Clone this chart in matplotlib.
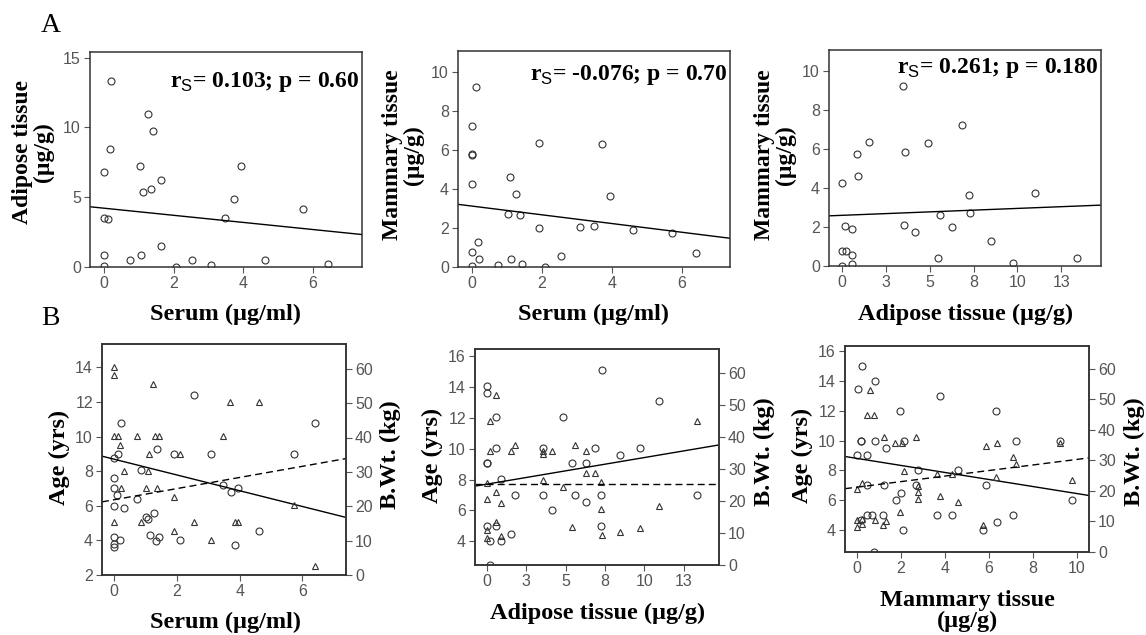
import matplotlib
matplotlib.use("Agg")
import matplotlib.pyplot as plt
import numpy as np

plt.rcParams['mathtext.fontset'] = 'custom'
plt.rcParams['mathtext.rm'] = 'Liberation Serif'
plt.rcParams['mathtext.bf'] = 'Liberation Serif:bold'
plt.rcParams['mathtext.sf'] = 'Liberation Sans'

# ---- data ----
# A: serum vs adipose
a1_serum = [0.2, 1.25, 1.41, 0.16, 0, 1.03, 1.63, 1.12, 1.36, 3.73, 3.93, 3.48, 5.73,
            0, 0.12, 0, 0, 0.74, 1.07, 1.63, 2.08, 2.54, 3.08, 4.63, 6.43]
a1_adipose = [13.35, 10.96, 9.74, 8.47, 6.84, 7.25, 6.24, 5.4, 5.57, 4.9, 7.25, 3.52, 4.14,
              3.54, 3.47, 0.84, 0.05, 0.53, 0.86, 1.48, 0, 0.53, 0.17, 0.53, 0.22]
# A: serum vs mammary
a2_serum = [0.12, 0, 0, 0, 0, 1.92, 3.72, 1.09, 1.25, 3.94, 1.03, 1.37, 1.91, 3.09,
            3.48, 4.61, 5.72, 6.41, 0, 0.18, 0.21, 0, 0.74, 1.13, 1.42, 2.09, 2.54]
a2_mammary = [9.26, 7.24, 5.83, 5.75, 4.29, 6.38, 6.33, 4.61, 3.77, 3.65, 2.74, 2.66, 2.0, 2.06,
              2.11, 1.92, 1.75, 0.74, 0.77, 1.3, 0.43, 0.05, 0.12, 0.41, 0.14, 0, 0.57]
# A: adipose vs mammary
a3_adipose = [3.47, 6.85, 1.51, 4.9, 0.86, 3.59, 0.88, 0, 7.25, 10.99, 5.59, 7.27, 0.15,
              0.53, 3.53, 4.16, 6.28, 8.49, 0, 0.23, 0.53, 0, 0.53, 5.44, 9.77, 13.42]
a3_mammary = [9.25, 7.21, 6.35, 6.3, 5.72, 5.84, 4.61, 4.28, 3.65, 3.75, 2.64, 2.74, 2.05,
              1.92, 2.11, 1.76, 1.99, 1.28, 0.79, 0.75, 0.55, 0.02, 0.12, 0.41, 0.15, 0.43]

# B: age (circles) and body weight (triangles)
b1_age_x = [2.53, 0.21, 6.4, 1.36, 0.12, 1.89, 3.09, 5.72, 0, 0.86, 0, 0, 0.09, 0.74, 3.47, 3.72,
            3.94, 0, 0.3, 1.02, 1.09, 1.26, 1.13, 1.32, 1.44, 2.1, 0, 0.17, 0, 0, 3.84, 4.61]
b1_age = [12.38, 10.79, 10.79, 9.31, 9.0, 9.0, 9.0, 9.0, 8.77, 8.08, 7.58, 7.0, 6.6, 6.38, 7.21, 6.81,
          7.04, 6.0, 5.88, 5.37, 5.21, 5.6, 4.31, 3.96, 4.17, 4.0, 4.21, 4.0, 3.77, 3.62, 3.73, 4.54]
b1_wt_x = [0, 0, 1.24, 3.7, 4.62, 0, 0.12, 0.73, 1.31, 1.44, 3.47, 0.17, 1.12, 2.1, 0.3,
           1.07, 0.21, 1.02, 1.36, 1.89, 5.72, 0, 0.86, 2.53, 3.84, 3.94, 1.89, 3.09, 6.4]
b1_wt = [60.6, 58.2, 55.7, 50.4, 50.4, 40.5, 40.5, 40.5, 40.5, 40.5, 40.5, 37.9, 35.3, 35.3, 30.3,
         30.3, 25.3, 25.3, 25.3, 22.8, 20.3, 15.3, 15.3, 15.3, 15.3, 15.3, 12.8, 10.3, 2.7]

b2_age_x = [7.34, 10.93, 0.04, 0.04, 0.57, 4.85, 3.54, 0.57, 6.86, 9.7, 8.48, 0.04, 0.04, 5.4, 6.29,
            0.89, 1.79, 3.54, 5.59, 6.29, 7.24, 13.33, 4.16, 0.04, 0.57, 7.22, 1.52, 0.21, 0.89, 0.21]
b2_age = [15.08, 13.07, 14.06, 13.57, 12.07, 12.07, 10.06, 10.06, 10.06, 10.06, 9.56, 9.04, 9.04, 9.04, 9.04,
          8.05, 7.03, 7.03, 7.03, 6.53, 7.03, 7.03, 6.06, 5.02, 5.02, 5.02, 4.5, 4.0, 4.0, 2.5]
b2_wt_x = [0.57, 0.21, 13.33, 0.21, 1.52, 1.79, 3.54, 3.54, 4.16, 5.59, 6.29, 6.29, 6.86, 7.22, 3.54,
           4.85, 0.04, 0.57, 0.04, 0.89, 7.22, 10.93, 5.4, 0.57, 0.04, 0.89, 0.04, 7.34, 8.48, 9.7]
b2_wt = [53.0, 44.9, 44.9, 35.5, 35.5, 37.4, 35.5, 34.8, 35.5, 37.4, 35.5, 28.7, 28.7, 25.8, 26.6,
         24.5, 25.6, 22.8, 20.7, 19.5, 17.4, 18.5, 12.0, 13.3, 11.0, 9.2, 8.4, 9.4, 10.4, 11.5]

b3_age_x = [0.26, 0.08, 0.82, 3.77, 1.95, 6.31, 0.18, 0.18, 0.82, 2.15, 7.22, 9.21, 1.33, 0.03, 0.45,
            2.78, 4.61, 0.48, 1.24, 2.68, 5.85, 2.03, 1.77, 9.76, 0.18, 0.45, 0.68, 1.21, 3.66, 4.31,
            7.1, 6.38, 5.73, 2.09, 0.79]
b3_age = [14.99, 13.48, 13.98, 12.97, 11.98, 11.98, 9.99, 9.99, 9.99, 9.99, 9.99, 9.99, 9.49, 9.0, 9.0,
          7.99, 7.99, 7.0, 7.0, 7.0, 7.0, 6.49, 6.0, 6.0, 4.67, 5.0, 5.0, 5.0, 5.0, 5.0,
          5.0, 4.52, 4.0, 4.0, 2.5]
b3_wt_x = [0.61, 0.45, 0.79, 1.26, 1.75, 2.07, 2.71, 5.85, 6.38, 9.23, 7.1, 7.22, 2.13, 3.66, 4.31,
           6.34, 9.76, 0.03, 0.23, 2.78, 2.78, 2.78, 3.78, 4.61, 1.95, 0.03, 0.03, 0.23, 0.26, 0.82,
           1.32, 1.21, 5.73]
b3_wt = [52.9, 44.7, 44.7, 37.6, 35.7, 35.7, 37.6, 34.7, 35.7, 35.7, 31.1, 28.7, 26.5, 25.5, 25.5,
         24.5, 23.4, 20.5, 22.6, 21.6, 19.6, 17.4, 18.3, 16.4, 13.1, 8.2, 10.4, 10.9, 9.3, 10.4,
         10.1, 8.7, 8.7]

# fit lines (intercept, slope)
a1_fit = (4.21, -0.254)
a2_fit = (3.13, -0.224)
a3_fit = (2.60, 0.0354)
b1_age_fit, b1_wt_fit = (8.69, -0.455), (21.9, 1.62)
b2_age_fit, b2_wt_fit = (7.70, 0.172), (25.3, 0.0)
b3_age_fit, b3_wt_fit = (8.80, -0.237), (21.2, 0.91)

stats_text = ['= 0.103; p = 0.60', '= -0.076; p = 0.70', '= 0.261; p = 0.180']

half_ticks = [0, 2.5, 5, 7.5, 10, 12.5]
half_labels = ['0', '3', '5', '8', '10', '13']

# ---- figure ----
W, H = 1146, 635
fig = plt.figure(figsize=(W / 100, H / 100), dpi=100)

SERIF = 'Liberation Serif'
TICK = '#555555'
EDGE = '#333333'
LAB = 17.5


def make_ax(l, t, r, b):
    return fig.add_axes([l / W, 1 - b / H, (r - l) / W, (b - t) / H])


def style(ax):
    for s in ax.spines.values():
        s.set_color(EDGE)
        s.set_linewidth(1.1)
    ax.tick_params(direction='out', length=4, width=0.8, color=TICK,
                   labelcolor=TICK, labelsize=11.5, pad=2.5)
    for lab in ax.get_xticklabels() + ax.get_yticklabels():
        lab.set_family('Liberation Sans')


def fitline(ax, fit, xlim, ls='-'):
    xs = np.array(xlim)
    ax.plot(xs, fit[0] + fit[1] * xs, color='black', lw=1.0, ls=ls,
            dashes=(5, 3) if ls == '--' else (None, None))


def circles(ax, x, y):
    ax.plot(x, y, 'o', mfc='none', mec=EDGE, ms=5, mew=0.8, clip_on=True)


def triangles(ax, x, y):
    ax.plot(x, y, '^', mfc='none', mec=EDGE, ms=5, mew=0.8, clip_on=True)


def ftext(x, y, s, size=LAB, rot=0, weight='bold', family=SERIF):
    fig.text(x / W, 1 - y / H, s, ha='center', va='center', rotation=rot,
             fontsize=size, fontweight=weight, family=family, color='black',
             linespacing=0.95)


# ---- row A ----
panels_a = [
    (make_ax(90, 52, 362, 267), a1_serum, a1_adipose, a1_fit, (-0.41, 7.42), (0, 15.4),
     [0, 2, 4, 6], None, [0, 5, 10, 15], 0.86),
    (make_ax(458, 51, 730, 267), a2_serum, a2_mammary, a2_fit, (-0.4, 7.38), (0, 11.1),
     [0, 2, 4, 6], None, [0, 2, 4, 6, 8, 10], 0.888),
    (make_ax(829, 50, 1101, 266), a3_adipose, a3_mammary, a3_fit, (-0.76, 14.77), (0, 11.08),
     half_ticks, half_labels, [0, 2, 4, 6, 8, 10], 0.917),
]
for (ax, x, y, fit, xl, yl, xt, xtl, yt, ty), st in zip(panels_a, stats_text):
    circles(ax, x, y)
    fitline(ax, fit, xl)
    ax.set_xlim(xl)
    ax.set_ylim(yl)
    ax.set_xticks(xt)
    if xtl:
        ax.set_xticklabels(xtl)
    ax.set_yticks(yt)
    style(ax)
    ax.text(0.99, ty, r'$\mathbf{r}_{\mathsf{S}}$' + st, transform=ax.transAxes,
            ha='right', va='center', fontsize=17, fontweight='bold', family=SERIF)

# ---- row B ----
panels_b = [
    (make_ax(102, 344, 346, 575), b1_age_x, b1_age, b1_wt_x, b1_wt, b1_age_fit, b1_wt_fit,
     (-0.39, 7.39), (2, 15.35), (0, 67.2), [0, 2, 4, 6], None, [2, 4, 6, 8, 10, 12, 14]),
    (make_ax(475, 349, 719, 565), b2_age_x, b2_age, b2_wt_x, b2_wt, b2_age_fit, b2_wt_fit,
     (-0.74, 14.73), (2.48, 16.43), (0, 67.5), half_ticks, half_labels, [4, 6, 8, 10, 12, 14, 16]),
    (make_ax(845, 346, 1089, 552), b3_age_x, b3_age, b3_wt_x, b3_wt, b3_age_fit, b3_wt_fit,
     (-0.53, 10.54), (2.5, 16.36), (0, 67.4), [0, 2, 4, 6, 8, 10], None, [4, 6, 8, 10, 12, 14, 16]),
]
for ax, ax_, ay, wx, wy, afit, wfit, xl, yl, yl2, xt, xtl, yt in panels_b:
    ax2 = ax.twinx()
    circles(ax, ax_, ay)
    fitline(ax, afit, xl)
    triangles(ax2, wx, wy)
    fitline(ax2, wfit, xl, ls='--')
    ax.set_xlim(xl)
    ax.set_ylim(yl)
    ax2.set_ylim(yl2)
    ax.set_xticks(xt)
    if xtl:
        ax.set_xticklabels(xtl)
    ax.set_yticks(yt)
    ax2.set_yticks([0, 10, 20, 30, 40, 50, 60])
    style(ax)
    style(ax2)

# ---- labels ----
ftext(51, 26, 'A', size=20, weight='normal')
ftext(50, 319, 'B', size=20, weight='normal')

ftext(226, 314, 'Serum (µg/ml)')
ftext(594, 314, 'Serum (µg/ml)')
ftext(966, 314, 'Adipose tissue (µg/g)')
ftext(33, 152, 'Adipose tissue\n(µg/g)', size=17, rot=90)
ftext(403, 155, 'Mammary tissue\n(µg/g)', size=17, rot=90)
ftext(775, 155, 'Mammary tissue\n(µg/g)', size=17, rot=90)

ftext(225, 622, 'Serum (µg/ml)')
ftext(598, 613, 'Adipose tissue (µg/g)')
ftext(967, 611, 'Mammary tissue\n(µg/g)')
ftext(59, 457, 'Age (yrs)', rot=90)
ftext(432, 455, 'Age (yrs)', rot=90)
ftext(802, 455, 'Age (yrs)', rot=90)
ftext(390, 455, 'B.Wt. (kg)', rot=90)
ftext(764, 452, 'B.Wt. (kg)', rot=90)
ftext(1134, 452, 'B.Wt. (kg)', rot=90)

fig.savefig('out.png', dpi=100)
